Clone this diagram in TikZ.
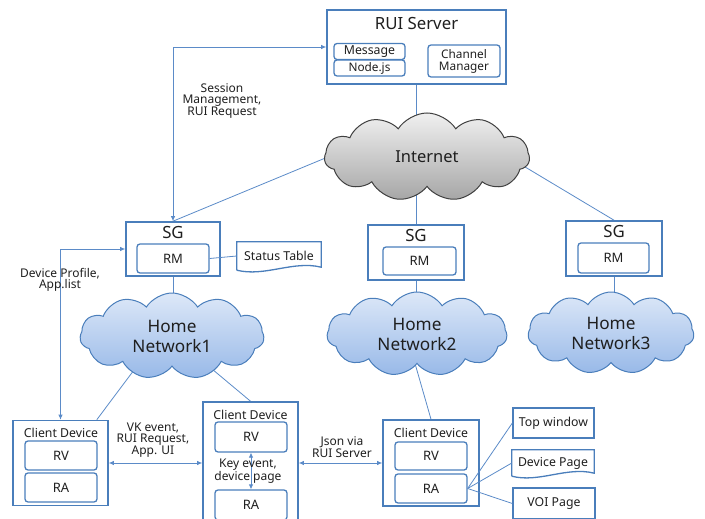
\documentclass[tikz,border=0pt]{standalone}
\usepackage{fontspec}
\setmainfont{Noto Sans}
\usetikzlibrary{shapes.symbols,arrows.meta,backgrounds,calc}
\definecolor{bord}{HTML}{4A7EBB}
\definecolor{lnc}{HTML}{5B8BC8}
\definecolor{txt}{HTML}{1F1F1F}
\definecolor{hnTop}{HTML}{DDE8F8}
\definecolor{hnBot}{HTML}{98B9E8}
\definecolor{inTop}{HTML}{F0F0F0}
\definecolor{inBot}{HTML}{A6A6A6}
\begin{document}
\begin{tikzpicture}[x=1pt,y=-1pt,text=txt,
  box/.style={draw=bord, line width=1.6pt, inner sep=0pt},
  inbox/.style={draw=bord, line width=1.3pt, rounded corners=3pt, inner sep=0pt, align=center},
  doc/.style={inner sep=0pt, align=center},
  docline/.style={draw=bord, line width=1.3pt},
  conn/.style={draw=lnc, line width=0.8pt},
  arr/.style={conn, {Latex[length=5pt,width=4.5pt]}-{Latex[length=5pt,width=4.5pt]}},
  big/.style={font=\fontsize{16.8}{18}\selectfont},
  mid/.style={font=\fontsize{13}{14}\selectfont},
  sm/.style={font=\fontsize{12.3}{13}\selectfont},
  lbl/.style={font=\fontsize{12}{10.8}\selectfont, align=center, inner sep=0pt},
  hcloud/.style={cloud, cloud puffs=11, cloud puff arc=115, cloud ignores aspect, draw=bord, line width=1pt, top color=hnTop, bottom color=hnBot, align=center, inner sep=0pt, font=\fontsize{17.2}{20}\selectfont},
]
\useasboundingbox (0,0) rectangle (705,519);

% RUI server
\node[box, minimum width=179pt, minimum height=74pt] (rui) at (416.5,47) {};
\node[big] (ruit) at (416.5,24) {RUI Server};
\node[inbox, sm, minimum width=71pt, minimum height=16pt] (msg) at (369.5,51.5) {Message};
\node[inbox, font=\fontsize{11.8}{12}\selectfont, minimum width=71pt, minimum height=16pt] (njs) at (369.5,68) {Node.js};
\node[inbox, font=\fontsize{11.8}{12}\selectfont, minimum width=72pt, minimum height=32pt] (chm) at (464,61) {Channel\\Manager};

% Internet
\node[cloud, cloud puffs=11, cloud puff arc=115, cloud ignores aspect, draw=black!75, line width=1pt, top color=inTop, bottom color=inBot, minimum width=205pt, minimum height=88pt, font=\fontsize{16.5}{18}\selectfont] (internet) at (427,157) {Internet};

% SGs
\node[box, minimum width=94pt, minimum height=54pt] (sg1) at (173,249) {};
\node[big] (sg1t) at (173,233) {SG};
\node[inbox, mid, minimum width=72pt, minimum height=29pt] (rm1) at (173,258.5) {RM};
\node[doc, sm, minimum width=84pt, minimum height=28pt] (status) at (279,256) {Status Table};
\draw[docline] (status.south west) -- (status.north west) -- (status.north east) -- ($(status.south east)+(0,-3)$)
  .. controls +(-28,-7) and +(28,7) .. (status.south west);

\node[box, minimum width=96pt, minimum height=55pt] (sg2) at (416,252.5) {};
\node[big] (sg2t) at (416,236) {SG};
\node[inbox, mid, minimum width=73pt, minimum height=28pt] (rm2) at (419.5,261) {RM};

\node[box, minimum width=96pt, minimum height=55pt] (sg3) at (614,248.5) {};
\node[big] (sg3t) at (614,232) {SG};
\node[inbox, mid, minimum width=71pt, minimum height=30pt] (rm3) at (613.5,258) {RM};

% Home networks
\node[hcloud, minimum width=184pt, minimum height=86pt] (home1) at (172,336) {Home\\Network1};
\node[hcloud, minimum width=180pt, minimum height=84pt] (home2) at (417,334) {Home\\Network2};
\node[hcloud, minimum width=166pt, minimum height=82pt] (home3) at (611,333) {Home\\Network3};

% Client devices
\node[box, minimum width=95pt, minimum height=85pt] (cd1) at (60.5,463) {};
\node[sm] (cd1t) at (61,433) {Client Device};
\node[inbox, mid, minimum width=72pt, minimum height=29pt] (rv1) at (61,455.5) {RV};
\node[inbox, mid, minimum width=72pt, minimum height=29pt] (ra1) at (61,487.5) {RA};

\node[box, minimum width=95pt, minimum height=123pt] (cd2) at (250.5,463.5) {};
\node[sm] (cd2t) at (250.5,415) {Client Device};
\node[inbox, mid, minimum width=72pt, minimum height=30pt] (rv2) at (251,437) {RV};
\node[inbox, mid, minimum width=72pt, minimum height=30pt] (ra2) at (251,505) {RA};

\node[box, minimum width=96pt, minimum height=86pt] (cd3) at (431,463) {};
\node[sm] (cd3t) at (431,433) {Client Device};
\node[inbox, mid, minimum width=72pt, minimum height=28pt] (rv3) at (431,456) {RV};
\node[inbox, mid, minimum width=72pt, minimum height=29pt] (ra3) at (431,488.5) {RA};

% pages
\node[box, sm, minimum width=81pt, minimum height=30pt, line width=1.3pt] (topw) at (553.5,423) {Top window};
\node[doc, sm, minimum width=82pt, minimum height=26pt] (devp) at (553,463) {Device Page};
\draw[docline] (devp.south west) -- (devp.north west) -- (devp.north east) -- ($(devp.south east)+(0,-3)$)
  .. controls +(-27,-7) and +(27,7) .. (devp.south west);
\node[box, sm, minimum width=82pt, minimum height=31pt, line width=1.3pt] (voip) at (554,503.5) {VOI Page};

% hidden coordinates inside clouds
\coordinate (i1) at (364,142);
\coordinate (i3) at (470,134);
\coordinate (h1a) at (140,362);
\coordinate (h1b) at (200,359);
\coordinate (h2a) at (414,360);

\begin{scope}[on background layer]
  \draw[conn] (rui.south) -- (rui.south |- internet.center);
  \draw[conn] (sg2.north) -- (sg2.north |- internet.center);
  \draw[conn] (sg1.north) -- (i1);
  \draw[conn] (sg3.north) -- (i3);
  \draw[conn] (sg1.south) -- (sg1.south |- home1.center);
  \draw[conn] (sg2.south) -- (sg2.south |- home2.center);
  \draw[conn] (sg3.south) -- (sg3.south |- home3.center);
  \draw[conn] ([xshift=-12pt]cd1.north east) -- (h1a);
  \draw[conn] (cd2.north) -- (h1b);
  \draw[conn] (cd3.north) -- (h2a);
\end{scope}

\draw[conn] (rm1.east) -- (status.west);
\draw[conn] (ra3.east) -- (topw.west);
\draw[conn] (ra3.east) -- (devp.west);
\draw[conn] (ra3.east) -- (voip.west);

\draw[arr] (sg1.north) |- (rui.west);
\draw[arr] (sg1.west) -| (cd1.north);
\draw[arr] (cd1.east) -- (cd1.east -| cd2.west);
\draw[arr] (cd3.west) -- (cd3.west -| cd2.east);
\draw[arr] (rv2.south) -- (ra2.north);

% labels
\node[lbl] (lsess) at (222,101) {Session\\Management,\\RUI Request};
\node[lbl] (ldev) at (60,279.5) {Device Profile,\\App.list};
\node[lbl] (lvk) at (153,440) {VK event,\\RUI Request,\\App. UI};
\node[lbl] (ljson) at (342,447) {Json via\\RUI Server};
\node[lbl] (lkey) at (248,471) {Key event,\\device page};
\end{tikzpicture}
\end{document}
